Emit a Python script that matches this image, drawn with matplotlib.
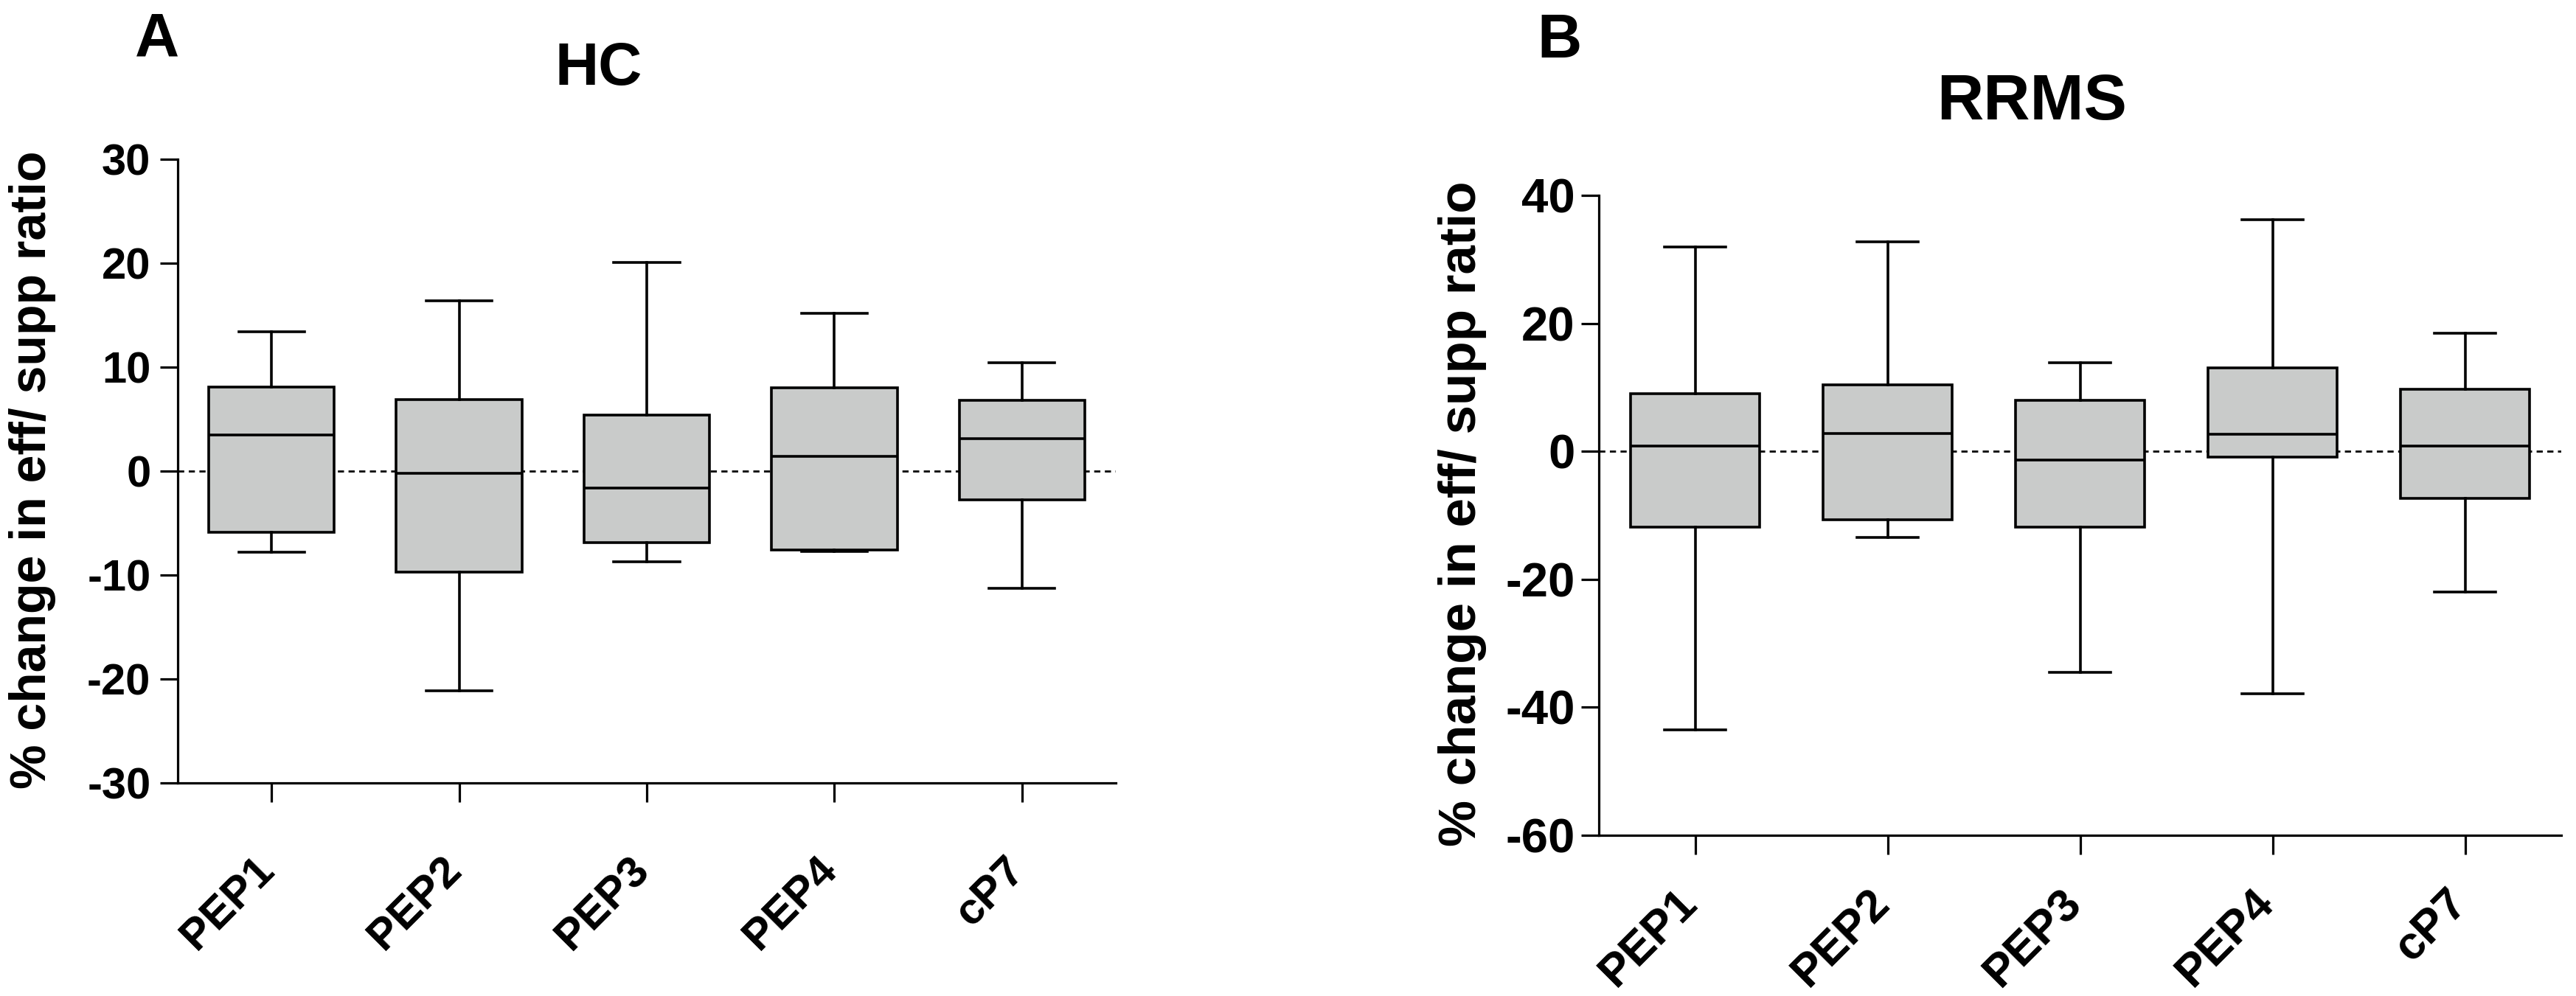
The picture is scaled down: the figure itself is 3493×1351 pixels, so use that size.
import matplotlib
matplotlib.use("Agg")
import matplotlib.pyplot as plt
from matplotlib import font_manager as fm
from matplotlib.transforms import ScaledTranslation

# ---------------- data ----------------
categories = ["PEP1", "PEP2", "PEP3", "PEP4", "cP7"]

hc_whislo = [-7.8, -21.1, -8.7, -7.7, -11.3]
hc_q1 = [-5.9, -9.7, -6.9, -7.6, -2.8]
hc_med = [3.5, -0.2, -1.6, 1.4, 3.1]
hc_q3 = [8.1, 6.9, 5.4, 8.0, 6.8]
hc_whishi = [13.4, 16.4, 20.1, 15.2, 10.4]
hc_yticks = [-30, -20, -10, 0, 10, 20, 30]

rrms_whislo = [-43.5, -13.5, -34.5, -37.9, -22.0]
rrms_q1 = [-11.8, -10.7, -11.8, -0.9, -7.3]
rrms_med = [0.8, 2.8, -1.4, 2.7, 0.8]
rrms_q3 = [9.0, 10.4, 8.0, 13.0, 9.7]
rrms_whishi = [31.9, 32.7, 13.9, 36.2, 18.5]
rrms_yticks = [-60, -40, -20, 0, 20, 40]

ylabel = "% change in eff/ supp ratio"

# ---------------- fonts ----------------
names = {f.name for f in fm.fontManager.ttflist}
BOLD = "Liberation Sans" if "Liberation Sans" in names else "DejaVu Sans"
NARROW = "Liberation Sans Narrow" if "Liberation Sans Narrow" in names else BOLD

W, H = 3493, 1351
DPI = 100
fig = plt.figure(figsize=(W / DPI, H / DPI), dpi=DPI)
fig.patch.set_facecolor("white")

FILL = "#C9CBCA"
LW = 2.6


def px2pt(p):
    return p * 72.0 / DPI


def panel(rect, whislo, q1, med, q3, whishi, yticks, capw,
          ytick_fs, ytick_pad, xlab_fs, xlab_dx, xlab_dy):
    ax = fig.add_axes(rect)
    stats = []
    for i, c in enumerate(categories):
        stats.append(dict(label=c, whislo=whislo[i], q1=q1[i], med=med[i],
                          q3=q3[i], whishi=whishi[i], fliers=[]))
    ax.axhline(0, color="black", lw=2.0, ls=(0, (3, 2.2)), zorder=1)
    ax.bxp(stats, positions=list(range(len(categories))), widths=0.67,
           capwidths=capw, patch_artist=True, showfliers=False,
           manage_ticks=False,
           boxprops=dict(facecolor=FILL, edgecolor="black", linewidth=LW),
           whiskerprops=dict(color="black", linewidth=LW),
           capprops=dict(color="black", linewidth=LW),
           medianprops=dict(color="black", linewidth=LW))
    ax.set_xlim(-0.5, len(categories) - 0.5)
    ax.set_ylim(yticks[0], yticks[-1])
    ax.spines["top"].set_visible(False)
    ax.spines["right"].set_visible(False)
    for s in ("left", "bottom"):
        ax.spines[s].set_linewidth(2.3)
    ax.set_yticks(yticks, labels=[str(v) for v in yticks],
                  fontsize=ytick_fs, fontweight="bold", family=NARROW)
    ax.tick_params(axis="y", length=px2pt(24), width=2.3, pad=ytick_pad,
                   direction="out")
    ax.set_xticks(list(range(len(categories))))
    ax.set_xticklabels([])
    ax.tick_params(axis="x", length=px2pt(26), width=2.3, direction="out")
    off = ScaledTranslation(xlab_dx / DPI, -xlab_dy / DPI, fig.dpi_scale_trans)
    for i, c in enumerate(categories):
        ax.text(i, 0, c, transform=ax.get_xaxis_transform() + off,
                rotation=45, ha="right", va="top", fontsize=xlab_fs,
                fontweight="bold", family=BOLD)
    return ax


axA = panel([241 / W, 1 - 1062 / H, (1513 - 241) / W, (1062 - 216) / H],
            hc_whislo, hc_q1, hc_med, hc_q3, hc_whishi, hc_yticks, 0.35,
            43, 9, 43, 14, 90)
axB = panel([2168 / W, 1 - 1133 / H, (3473 - 2168) / W, (1133 - 265) / H],
            rrms_whislo, rrms_q1, rrms_med, rrms_q3, rrms_whishi, rrms_yticks,
            0.315, 47, 6, 45, 14, 62)

# y labels
fig.text(44 / W, 1 - 637 / H, ylabel, rotation=90, ha="center", va="center",
         fontsize=49, fontweight="bold", family=BOLD)
fig.text(1983 / W, 1 - 697 / H, ylabel, rotation=90, ha="center", va="center",
         fontsize=51, fontweight="bold", family=BOLD)

# titles
fig.text(812 / W, 1 - 115 / H, "HC", ha="center", va="baseline",
         fontsize=59, fontweight="bold", family=NARROW)
fig.text(2755 / W, 1 - 162 / H, "RRMS", ha="center", va="baseline",
         fontsize=63, fontweight="bold", family=NARROW)

# panel letters
fig.text(213 / W, 1 - 77 / H, "A", ha="center", va="baseline",
         fontsize=60, fontweight="bold", family=BOLD)
fig.text(2115 / W, 1 - 78 / H, "B", ha="center", va="baseline",
         fontsize=60, fontweight="bold", family=BOLD)

fig.savefig("out.png", dpi=DPI, facecolor="white")
